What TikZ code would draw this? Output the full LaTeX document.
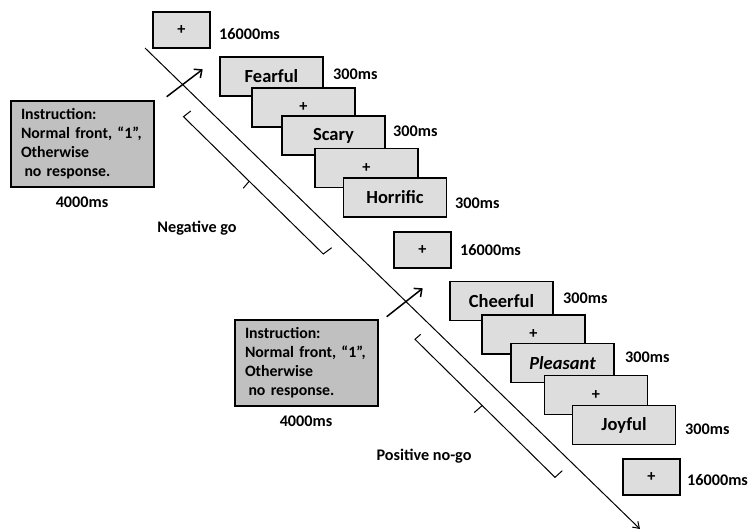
\documentclass[tikz,border=0pt]{standalone}
\usepackage{fontspec}
\setmainfont{Carlito}
\definecolor{lightbox}{RGB}{221,221,221}
\definecolor{darkbox}{RGB}{192,192,192}
\usetikzlibrary{calc,positioning,arrows.meta}

\begin{document}
\begin{tikzpicture}[x=1pt,y=-1pt,
        every node/.style={font=\fontsize{16.2}{19}\selectfont\bfseries},
        stim/.style={draw,line width=1.5pt,fill=lightbox,inner sep=0pt},
        word/.style={stim,minimum width=103pt,minimum height=39pt,font=\fontsize{18.5}{22}\selectfont\bfseries},
        cross/.style={stim,minimum width=103pt,minimum height=39pt},
        blank/.style={stim,minimum width=57pt,minimum height=36pt},
        instr/.style={draw,line width=1.5pt,fill=darkbox,text width=123pt,inner xsep=10pt,minimum height=86pt,align=left,font=\fontsize{15.8}{19}\selectfont\bfseries},
        ms/.style={anchor=west,inner sep=0pt},
        cue/.style={line width=1.5pt,-{Straight Barb[length=6pt,width=11pt]}},
        brack/.style={line width=1pt}]
        \useasboundingbox (0,0) rectangle (749,531);
        % time line
        \coordinate (lineS) at (145,48);
        \coordinate (lineE) at (640,529);
        \draw[line width=1pt,-{Straight Barb[length=6pt,width=8pt]}] (lineS) -- (lineE);
        % negative block
        \coordinate (upA0) at (166.7,96.7);
        \coordinate (upA1) at (202.7,69.3);
        \draw[cue] (upA0) -- (upA1);
        \coordinate (brA1) at (190.7,111);
        \coordinate (brA2) at (183.5,116.7);
        \coordinate (brA3) at (323.3,254);
        \coordinate (brA4) at (331.7,247.7);
        \draw[brack] (brA1) -- (brA2) -- (brA3) -- (brA4);
        \draw[brack] ($(brA2)!0.47!(brA3)$) -- ++(-6,7);
        \node[instr] (instA) at (82.5,144) {Instruction:\\Normal front, “1”,\\Otherwise\\\hspace*{3.5pt}no response.};
        \node (durA) at (82,202) {4000ms};
        \node (negA) at (197,228) {Negative go};
        \node[blank] (fixA) at (181.5,30) {+};
        \node[ms] (tA) at (219,34) {16000ms};
        \node[word] (fear) at (271.5,76.5) {Fearful};
        \node[ms] (tFear) at (333,74) {300ms};
        \node[cross] (fixB) at (303.5,107.5) {+};
        \node[word] (scary) at (333.5,135.5) {Scary};
        \node[ms] (tScary) at (393,131) {300ms};
        \node[cross] (fixC) at (366.5,168) {+};
        \node[word] (horr) at (395,197.5) {Horrific};
        \node[ms] (tHorr) at (455,203) {300ms};
        \node[blank] (fixD) at (422.5,250) {+};
        \node[ms] (tD) at (460,250) {16000ms};
        % positive block
        \coordinate (upB0) at (386.7,316.7);
        \coordinate (upB1) at (422.7,288.3);
        \draw[cue] (upB0) -- (upB1);
        \coordinate (brB1) at (420.7,334.3);
        \coordinate (brB2) at (415,339.3);
        \coordinate (brB3) at (555,477.3);
        \coordinate (brB4) at (562.3,470.7);
        \draw[brack] (brB1) -- (brB2) -- (brB3) -- (brB4);
        \draw[brack] ($(brB2)!0.48!(brB3)$) -- ++(-8,7);
        \node[instr] (instB) at (306.5,363) {Instruction:\\Normal front, “1”,\\Otherwise\\\hspace*{3.5pt}no response.};
        \node (durB) at (306,421) {4000ms};
        \node (posB) at (424,456) {Positive no-go};
        \node[word] (cheer) at (501.5,301) {Cheerful};
        \node[ms] (tCheer) at (563,298) {300ms};
        \node[cross] (fixE) at (533.5,334.5) {+};
        \node[word] (pleas) at (562.5,363) {\itshape Pleasant};
        \node[ms] (tPleas) at (625,357) {300ms};
        \node[cross] (fixF) at (596,395) {+};
        \node[word] (joy) at (624,425) {Joyful};
        \node[ms] (tJoy) at (685,429) {300ms};
        \node[blank] (fixG) at (651.5,477) {+};
        \node[ms] (tG) at (687,480) {16000ms};
\end{tikzpicture}
\end{document}
